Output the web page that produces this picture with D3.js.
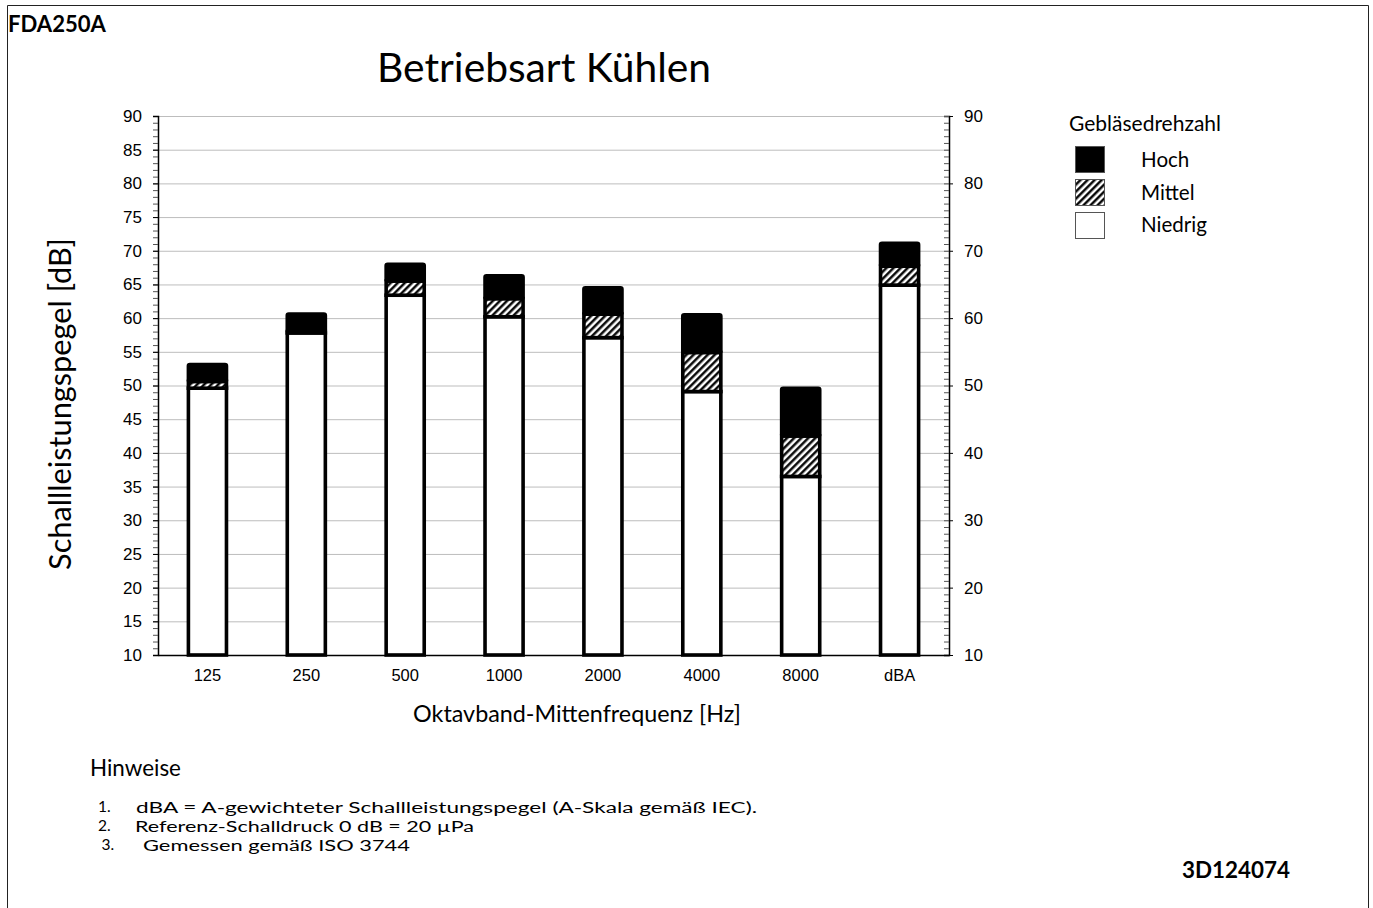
<!DOCTYPE html>
<html><head><meta charset="utf-8">
<script src="https://cdn.jsdelivr.net/npm/d3@7"></script>
<style>body{margin:0;background:#fff;} svg{display:block;}</style>
</head><body>
<svg id="c" width="1373" height="908"></svg>
<script>
const categories = ["125","250","500","1000","2000","4000","8000","dBA"];
const niedrig = [49.6, 57.8, 63.4, 60.2, 57.1, 49.1, 36.5, 64.9];
const mittel  = [50.6, 58.0, 65.5, 62.9, 60.6, 54.9, 42.5, 67.7];
const hoch    = [53.1, 60.6, 68.0, 66.3, 64.5, 60.5, 49.6, 71.1];
const yTicks = [10,15,20,25,30,35,40,45,50,55,60,65,70,75,80,85,90];
const yTicksRight = [10,20,30,40,50,60,70,80,90];
const seriesNames = ["Hoch","Mittel","Niedrig"];
const notes = ["dBA = A-gewichteter Schallleistungspegel (A-Skala gemäß IEC).","Referenz-Schalldruck 0 dB = 20 µPa","Gemessen gemäß ISO 3744"];

const HF = "Lato, 'Open Sans', sans-serif";
const AF = "'Liberation Sans', Arial, sans-serif";
const svg = d3.select("#c");

function fit(sel, w){
  const L = sel.node().getComputedTextLength();
  const fs = parseFloat(sel.attr("font-size"));
  sel.attr("font-size", (fs*w/L).toFixed(2));
  return sel;
}

// hatch pattern
const defs = svg.append("defs");
const pat = defs.append("pattern").attr("id","hatch").attr("patternUnits","userSpaceOnUse")
  .attr("width",5).attr("height",5).attr("patternTransform","rotate(45)");
pat.append("rect").attr("width",5).attr("height",5).attr("fill","#fff");
pat.append("line").attr("x1",1.3).attr("y1",0).attr("x2",1.3).attr("y2",5).attr("stroke","#000").attr("stroke-width",2.4);

// frame
svg.append("path").attr("d","M7.5,908 V5.5 H1368.5 V908").attr("fill","none").attr("stroke","#222").attr("stroke-width",1);

const x = d3.scaleBand().domain(categories).range([158,949]).paddingInner(0.615).paddingOuter(0.3075);
const y = d3.scaleLinear().domain([10,90]).range([655,116]);

// gridlines
svg.append("g").selectAll("line").data(yTicks.filter(d=>d>10)).join("line")
  .attr("x1",158).attr("x2",949).attr("y1",d=>y(d)+0.5).attr("y2",d=>y(d)+0.5)
  .attr("stroke","#bdbdbd").attr("stroke-width",1);

// left axis
const minor = d3.range(10,91,1);
const gl = svg.append("g").attr("transform","translate(158,0)")
  .call(d3.axisLeft(y).tickValues(minor).tickSize(5).tickFormat(""));
gl.selectAll(".tick line").attr("stroke","#555");
gl.select(".domain").attr("stroke","#000").attr("stroke-width",1.5);
const glab = svg.append("g").attr("transform","translate(158,0)")
  .call(d3.axisLeft(y).tickValues(yTicks).tickSize(5).tickPadding(11));
glab.select(".domain").remove();
glab.selectAll(".tick line").attr("stroke","#000");
glab.selectAll("text").attr("font-family",AF).attr("font-size",17).attr("fill","#000");

// right axis
const gr = svg.append("g").attr("transform","translate(949,0)")
  .call(d3.axisLeft(y).tickValues(minor).tickSize(5).tickFormat(""));
gr.selectAll(".tick line").attr("stroke","#555");
gr.select(".domain").attr("stroke","#000").attr("stroke-width",1.5);
const grl = svg.append("g").attr("transform","translate(949,0)")
  .call(d3.axisRight(y).tickValues(yTicksRight).tickSize(4).tickPadding(11));
grl.select(".domain").remove();
grl.selectAll(".tick line").attr("stroke","#000");
grl.selectAll("text").attr("font-family",AF).attr("font-size",17).attr("fill","#000");

// bottom axis
const gb = svg.append("g").attr("transform","translate(0,655)")
  .call(d3.axisBottom(x).tickSize(0).tickPadding(14));
gb.select(".domain").attr("stroke","#000").attr("stroke-width",1.5);
gb.selectAll("text").attr("font-family",AF).attr("font-size",16.5).attr("fill","#000");

// bars
const rows = categories.map((c,i)=>({c, n:niedrig[i], m:mittel[i], h:hoch[i]}));
const bars = svg.append("g");
const bw = x.bandwidth();
rows.forEach(r=>{
  const g = bars.append("g");
  g.append("rect").attr("x",x(r.c)).attr("width",bw).attr("y",y(r.n)).attr("height",y(10)-y(r.n))
    .attr("fill","#fff").attr("stroke","#000").attr("stroke-width",3.6);
  if (r.m > r.n) g.append("rect").attr("x",x(r.c)).attr("width",bw).attr("y",y(r.m)).attr("height",y(r.n)-y(r.m))
    .attr("fill","url(#hatch)").attr("stroke","#000").attr("stroke-width",3.6);
  g.append("rect").attr("x",x(r.c)).attr("width",bw).attr("y",y(r.h)).attr("height",y(r.m)-y(r.h))
    .attr("fill","#000").attr("stroke","#000").attr("stroke-width",3.6).attr("rx",1.5);
});

// texts
fit(svg.append("text").attr("x",8).attr("y",31.5).attr("font-family",HF).attr("font-weight","bold")
  .attr("font-size",20).text("FDA250A"), 98);
fit(svg.append("text").attr("x",377).attr("y",82).attr("font-family",HF)
  .attr("font-size",34).text("Betriebsart Kühlen"), 334);
fit(svg.append("text").attr("transform","translate(71,404) rotate(-90)").attr("text-anchor","middle")
  .attr("font-family",HF).attr("font-size",26).text("Schallleistungspegel [dB]"), 332);
fit(svg.append("text").attr("x",577).attr("y",722).attr("text-anchor","middle").attr("font-family",HF)
  .attr("font-size",19).text("Oktavband-Mittenfrequenz [Hz]"), 328);

// legend
fit(svg.append("text").attr("x",1069).attr("y",131).attr("font-family",HF).attr("font-size",18).text("Gebläsedrehzahl"),152);
const legFill = ["#000","url(#hatch)","#fff"];
const legY = [146,179,212];
const legBase = [167,200,232];
seriesNames.forEach((s,i)=>{
  svg.append("rect").attr("x",1075.5).attr("y",legY[i]+0.5).attr("width",29).attr("height",26)
    .attr("fill",legFill[i]).attr("stroke","#555").attr("stroke-width",1);
  svg.append("text").attr("class","leg").attr("x",1141).attr("y",legBase[i]).attr("font-family",HF)
    .attr("font-size",18).text(s);
});
{
  const t = svg.selectAll("text.leg").filter(function(){return d3.select(this).text()==="Niedrig";});
  const L = t.node().getComputedTextLength();
  svg.selectAll("text.leg").attr("font-size",(18*66/L).toFixed(2));
}

// notes
fit(svg.append("text").attr("x",90).attr("y",776).attr("font-family",HF).attr("font-size",18).text("Hinweise"),91);
const numX = [98,98,101.5], numY=[812,831,850], txtX=[136,135,143], txtY=[813,832,851], txtW=[621,339,267];
notes.forEach((n,i)=>{
  svg.append("text").attr("x",numX[i]).attr("y",numY[i]).attr("font-family",HF).attr("font-size",15.5).text((i+1)+".");
  svg.append("text").attr("x",txtX[i]).attr("y",txtY[i]).attr("font-family",HF).attr("font-size",15.5)
    .attr("textLength",txtW[i]).attr("lengthAdjust","spacingAndGlyphs").text(n);
});
fit(svg.append("text").attr("x",1290).attr("y",878).attr("text-anchor","end").attr("font-family",HF).attr("font-weight","bold")
  .attr("font-size",20).text("3D124074"),108);
</script>
</body></html>
